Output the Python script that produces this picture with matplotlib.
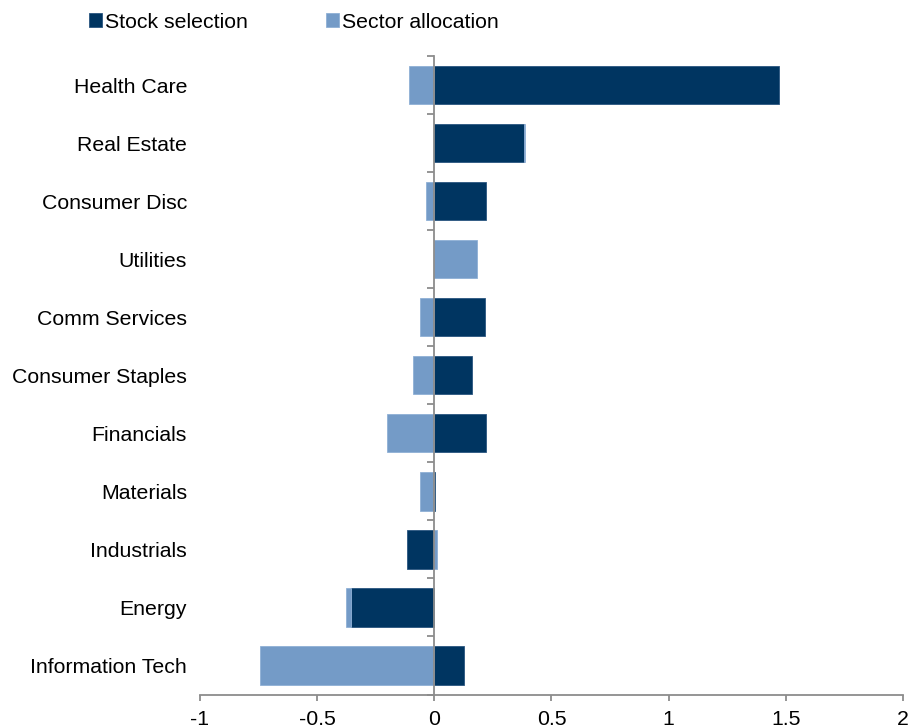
import matplotlib.pyplot as plt
import numpy as np

# Attribution by sector (percentage points)
sectors = ["Health Care", "Real Estate", "Consumer Disc", "Utilities", "Comm Services",
           "Consumer Staples", "Financials", "Materials", "Industrials", "Energy",
           "Information Tech"]
stock_sel = [1.47, 0.383, 0.222, 0.0, 0.216, 0.161, 0.22, 0.005, -0.115, -0.356, 0.128]
sector_alloc = [-0.107, 0.005, -0.036, 0.181, -0.06, -0.092, -0.204, -0.063, 0.011, -0.02, -0.745]

navy = "#003561"
light = "#749BC7"

plt.rcParams["font.family"] = ["Liberation Sans", "DejaVu Sans"]

fig = plt.figure(figsize=(9.09, 7.28), dpi=100)
ax = fig.add_axes([0.22, 0.046, 0.7734, 0.877])

y = np.arange(len(sectors))[::-1]
s = np.array(stock_sel)
a = np.array(sector_alloc)

# excel style stacking: positives and negatives stack separately
a_left = np.where(a >= 0, np.where(s > 0, s, 0), np.where(s < 0, s, 0))

ax.barh(y, s, height=0.66, color=navy, edgecolor="#2a5580", linewidth=0.6, label="Stock selection")
ax.barh(y, a, left=a_left, height=0.66, color=light, edgecolor="#8fb0d6", linewidth=0.6,
        label="Sector allocation")

ax.set_xlim(-1, 2)
ax.set_ylim(-0.5, len(sectors) - 0.5)
ax.set_xticks(np.arange(-1, 2.01, 0.5))
ax.set_xticklabels(["-1", "-0.5", "0", "0.5", "1", "1.5", "2"])

for side in ["top", "right"]:
    ax.spines[side].set_visible(False)
ax.spines["bottom"].set_color("#8c8c8c")
ax.spines["bottom"].set_linewidth(1.3)
ax.spines["left"].set_position(("data", 0))
ax.spines["left"].set_color("#8c8c8c")
ax.spines["left"].set_linewidth(1.3)
ax.spines["left"].set_zorder(5)

ax.set_yticks(y)
ax.set_yticklabels(sectors)
ax.set_yticks(np.arange(-0.5, len(sectors), 1.0), minor=True)
ax.tick_params(axis="y", which="major", length=0, pad=178, labelsize=15.3)
ax.tick_params(axis="y", which="minor", length=5, width=1.3, color="#8c8c8c")
ax.tick_params(axis="x", length=4.5, width=1.3, color="#8c8c8c", labelsize=15.3, pad=6.5)

ax.legend(loc="upper left", bbox_to_anchor=(-0.17, 1.081), ncol=2, frameon=False,
          fontsize=15.3, handlelength=0.62, handleheight=0.62, handletextpad=0.15,
          columnspacing=3.65, borderaxespad=0)

fig.savefig("out.png", dpi=100)
